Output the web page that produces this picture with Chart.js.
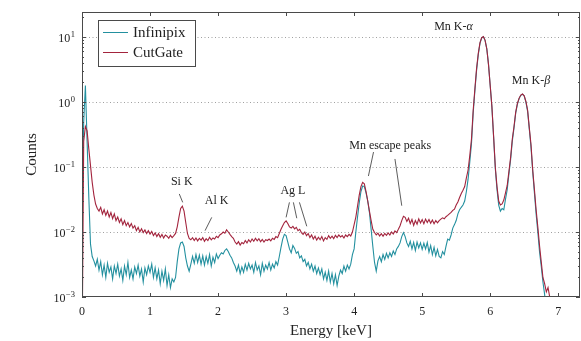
<!DOCTYPE html>
<html><head><meta charset="utf-8">
<script src="https://cdn.jsdelivr.net/npm/chart.js@4/dist/chart.umd.min.js"></script>
<style>html,body{margin:0;padding:0;background:#fff}canvas{display:block}</style>
</head><body>
<canvas id="c" width="581" height="341"></canvas>
<script>
// ---- data ----
const channelWidth = 0.025; // keV per spectrum channel (channel i is at i*channelWidth keV)
const seriesNames = ['Infinipix', 'CutGate'];

const infinipix = [
 0.02, 0.5, 1.8, 0.25, 0.035, 0.0065, 0.0042, 0.0036, 0.0030, 0.0038,
 0.0026, 0.0035, 0.0022, 0.0031, 0.0020, 0.0033, 0.0024, 0.0029, 0.0019, 0.0030,
 0.0023, 0.0032, 0.0021, 0.0027, 0.0018, 0.0030, 0.0022, 0.0034, 0.0020, 0.0026,
 0.0019, 0.0029, 0.0023, 0.0031, 0.0021, 0.0027, 0.0017, 0.0028, 0.0022, 0.0030,
 0.0024, 0.0032, 0.0020, 0.0028, 0.0019, 0.0026, 0.0016, 0.0025, 0.0018, 0.0027,
 0.0015, 0.0022, 0.0014, 0.0019, 0.0017, 0.0020, 0.0035, 0.0055, 0.0068, 0.0070,
 0.0060, 0.0040, 0.0030, 0.0025, 0.0032, 0.0042, 0.0033, 0.0045, 0.0034, 0.0044,
 0.0032, 0.0043, 0.0031, 0.0042, 0.0033, 0.0045, 0.0030, 0.0041, 0.0034, 0.0046,
 0.0039, 0.0044, 0.0048, 0.0046, 0.0052, 0.0055, 0.0050, 0.0044, 0.0040, 0.0034,
 0.0030, 0.0025, 0.0031, 0.0023, 0.0029, 0.0024, 0.0032, 0.0026, 0.0033, 0.0027,
 0.0031, 0.0024, 0.0034, 0.0026, 0.0030, 0.0022, 0.0033, 0.0025, 0.0031, 0.0027,
 0.0034, 0.0026, 0.0032, 0.0028, 0.0035, 0.0031, 0.0042, 0.0058, 0.0078, 0.0092,
 0.0088, 0.0070, 0.0055, 0.0048, 0.0062, 0.0056, 0.0047, 0.0050, 0.0040, 0.0043,
 0.0035, 0.0038, 0.0030, 0.0034, 0.0027, 0.0032, 0.0025, 0.0030, 0.0023, 0.0028,
 0.0022, 0.0027, 0.0019, 0.0024, 0.0018, 0.0025, 0.0017, 0.0023, 0.0016, 0.0022,
 0.0015, 0.0021, 0.0026, 0.0023, 0.0030, 0.0025, 0.0031, 0.0027, 0.0032, 0.0045,
 0.0055, 0.0100, 0.0170, 0.028, 0.042, 0.051, 0.050, 0.040, 0.030, 0.020,
 0.011, 0.0060, 0.0034, 0.0025, 0.0036, 0.0042, 0.0035, 0.0045, 0.0038, 0.0047,
 0.0040, 0.0048, 0.0042, 0.0051, 0.0045, 0.0055, 0.0060, 0.0068, 0.0085, 0.0098,
 0.0085, 0.0068, 0.0060, 0.0072, 0.0055, 0.0069, 0.0052, 0.0070, 0.0057, 0.0068,
 0.0054, 0.0067, 0.0055, 0.0069, 0.0049, 0.0062, 0.0045, 0.0058, 0.0043, 0.0054,
 0.0042, 0.0040, 0.0050, 0.0045, 0.0060, 0.0078, 0.0075, 0.0090, 0.0115, 0.0130,
 0.015, 0.019, 0.022, 0.024, 0.026, 0.030, 0.042, 0.065, 0.12, 0.23,
 0.68, 1.5, 3.1, 5.4, 8.0, 9.7, 10.1, 8.9, 6.6, 3.8,
 1.8, 0.84, 0.29, 0.095, 0.045, 0.026, 0.021, 0.023, 0.022, 0.032,
 0.045, 0.078, 0.13, 0.25, 0.40, 0.68, 0.93, 1.13, 1.27, 1.32,
 1.24, 1.0, 0.72, 0.38, 0.20, 0.085, 0.040, 0.019, 0.0100, 0.0050,
 0.0030, 0.0017, 0.0011, 0.0005
];

const cutgate = [
 0.0001, 0.25, 0.42, 0.36, 0.19, 0.105, 0.058, 0.037, 0.027, 0.023,
 0.021, 0.024, 0.019, 0.022, 0.018, 0.021, 0.017, 0.020, 0.016, 0.019,
 0.015, 0.017, 0.014, 0.016, 0.013, 0.015, 0.0125, 0.014, 0.012, 0.0135,
 0.0115, 0.0125, 0.0105, 0.0118, 0.0100, 0.0112, 0.0098, 0.0108, 0.0095, 0.0105,
 0.0093, 0.0102, 0.0088, 0.0097, 0.0085, 0.0094, 0.0083, 0.0092, 0.0081, 0.0090,
 0.0086, 0.0080, 0.0089, 0.0082, 0.0088, 0.0095, 0.012, 0.017, 0.023, 0.025,
 0.021, 0.014, 0.0095, 0.0080, 0.0076, 0.0082, 0.0074, 0.0081, 0.0073, 0.0080,
 0.0075, 0.0082, 0.0072, 0.0079, 0.0074, 0.0083, 0.0076, 0.0081, 0.0078, 0.0086,
 0.0082, 0.0090, 0.0094, 0.0100, 0.0096, 0.0108, 0.0100, 0.0092, 0.0085, 0.0080,
 0.0070, 0.0065, 0.0071, 0.0063, 0.0069, 0.0066, 0.0074, 0.0068, 0.0076, 0.0070,
 0.0078, 0.0072, 0.0080, 0.0073, 0.0079, 0.0071, 0.0077, 0.0070, 0.0076, 0.0074,
 0.0078, 0.0073, 0.0080, 0.0077, 0.0085, 0.0082, 0.0095, 0.0110, 0.0125, 0.0140,
 0.0148, 0.0135, 0.0120, 0.0115, 0.0122, 0.0112, 0.0118, 0.0105, 0.0110, 0.0098,
 0.0092, 0.0100, 0.0088, 0.0095, 0.0082, 0.0090, 0.0078, 0.0086, 0.0075, 0.0083,
 0.0076, 0.0085, 0.0073, 0.0082, 0.0077, 0.0088, 0.0080, 0.0086, 0.0079, 0.0089,
 0.0082, 0.0090, 0.0084, 0.0088, 0.0081, 0.0090, 0.0085, 0.0092, 0.0087, 0.0100,
 0.013, 0.017, 0.025, 0.037, 0.050, 0.058, 0.055, 0.042, 0.030, 0.021,
 0.015, 0.011, 0.0098, 0.0090, 0.0096, 0.0087, 0.0094, 0.0086, 0.0095, 0.0089,
 0.0097, 0.0090, 0.0100, 0.0093, 0.0104, 0.0098, 0.0110, 0.0125, 0.0150, 0.0175,
 0.0168, 0.0145, 0.0163, 0.0135, 0.0156, 0.0126, 0.0150, 0.0132, 0.0160, 0.0138,
 0.0155, 0.0134, 0.0158, 0.0140, 0.0156, 0.0136, 0.0153, 0.0134, 0.0150, 0.0138,
 0.0150, 0.0158, 0.0165, 0.0160, 0.0172, 0.0180, 0.0190, 0.0200, 0.0215, 0.0225,
 0.026, 0.029, 0.034, 0.039, 0.044, 0.050, 0.068, 0.090, 0.15, 0.27,
 0.75, 1.6, 3.3, 5.6, 8.2, 9.8, 10.2, 8.9, 6.6, 3.8,
 1.8, 0.85, 0.30, 0.10, 0.050, 0.030, 0.026, 0.027, 0.031, 0.040,
 0.052, 0.085, 0.14, 0.27, 0.42, 0.70, 0.95, 1.15, 1.28, 1.33,
 1.25, 1.02, 0.75, 0.40, 0.22, 0.09, 0.045, 0.022, 0.012, 0.0062,
 0.0035, 0.0020, 0.0016, 0.0012, 0.0014, 0.0010, 0.0008, 0.0004
];

const xTickValues = [0, 1, 2, 3, 4, 5, 6, 7];
const yTickValues = [1e-3, 1e-2, 1e-1, 1e0, 1e1];
const xAxisTitle = 'Energy [keV]';
const yAxisTitle = 'Counts';

// annotation labels (text anchored in data units) with pointer lines
const labels = [
  { parts: [['Mn K-', false], ['\u03b1', true]], x: 5.46, y: 14.3, pins: [] },
  { parts: [['Mn K-', false], ['\u03b2', true]], x: 6.60, y: 2.1, pins: [] },
  { parts: [['Mn escape peaks', false]], x: 4.53, y: 0.213,
    pins: [[4.285, 0.170, 4.21, 0.0727], [4.60, 0.133, 4.70, 0.0254]] },
  { parts: [['Si K', false]], x: 1.466, y: 0.060, pins: [[1.43, 0.0385, 1.48, 0.0286]] },
  { parts: [['Al K', false]], x: 1.98, y: 0.0303, pins: [[1.907, 0.0168, 1.809, 0.0105]] },
  { parts: [['Ag L', false]], x: 3.10, y: 0.0432,
    pins: [[3.049, 0.0286, 3.0, 0.0168], [3.107, 0.0286, 3.157, 0.0163], [3.196, 0.0286, 3.304, 0.01225]] }
];

// ---- style ----
const SERIF = "'Liberation Serif', 'Times New Roman', 'DejaVu Serif', serif";
const colors = { Infinipix: '#23909f', CutGate: '#a3243d' };
const frameColor = '#4a4a4a';

function toPoints(vals) {
  return vals.map((v, i) => ({ x: Math.round(i * channelWidth * 1000) / 1000, y: v }));
}

const decor = {
  id: 'decor',
  beforeDatasetsDraw(chart) {
    const { ctx, chartArea: a, scales: { y } } = chart;
    ctx.save();
    ctx.strokeStyle = '#a0a0a0';
    ctx.lineWidth = 1;
    ctx.setLineDash([1, 2.5]);
    yTickValues.forEach(v => {
      const py = Math.round(y.getPixelForValue(v)) + 0.5;
      if (py > a.bottom - 2) return;
      ctx.beginPath(); ctx.moveTo(a.left, py); ctx.lineTo(a.right, py); ctx.stroke();
    });
    ctx.restore();
  },
  afterDatasetsDraw(chart) {
    const { ctx, chartArea: a, scales: { x, y } } = chart;
    ctx.save();
    // frame
    ctx.strokeStyle = frameColor; ctx.lineWidth = 1;
    ctx.strokeRect(a.left + 0.5, a.top + 0.5, a.right - a.left - 1, a.bottom - a.top - 1);
    // x ticks (bottom & top, inward)
    ctx.beginPath();
    xTickValues.forEach(v => {
      const px = Math.round(x.getPixelForValue(v)) + 0.5;
      ctx.moveTo(px, a.bottom); ctx.lineTo(px, a.bottom - 4);
      ctx.moveTo(px, a.top); ctx.lineTo(px, a.top + 4);
    });
    // y ticks major & minor (left & right, inward)
    yTickValues.forEach(v => {
      const py = Math.round(y.getPixelForValue(v)) + 0.5;
      ctx.moveTo(a.left, py); ctx.lineTo(a.left + 4, py);
      ctx.moveTo(a.right, py); ctx.lineTo(a.right - 4, py);
    });
    for (let d = -3; d <= 1; d++) {
      for (let m = 2; m <= 9; m++) {
        const v = m * Math.pow(10, d);
        if (v > y.max) continue;
        const py = Math.round(y.getPixelForValue(v)) + 0.5;
        ctx.moveTo(a.left, py); ctx.lineTo(a.left + 2, py);
        ctx.moveTo(a.right, py); ctx.lineTo(a.right - 2, py);
      }
    }
    ctx.stroke();

    // y tick labels 10^n
    ctx.fillStyle = '#222';
    ctx.textAlign = 'left'; ctx.textBaseline = 'alphabetic';
    yTickValues.forEach(v => {
      const py = y.getPixelForValue(v);
      const e = Math.round(Math.log10(v));
      const es = e < 0 ? '\u2212' + (-e) : String(e);
      ctx.font = '12px ' + SERIF; const wb = ctx.measureText('10').width;
      ctx.font = '8.5px ' + SERIF; const we = ctx.measureText(es).width;
      const x0 = 75 - we - wb - 0.5;
      ctx.font = '12px ' + SERIF; ctx.fillText('10', x0, py + 4.5);
      ctx.font = '8.5px ' + SERIF; ctx.fillText(es, x0 + wb + 0.5, py - 0.5);
    });

    // axis titles
    ctx.font = '15px ' + SERIF;
    ctx.textAlign = 'center'; ctx.textBaseline = 'middle';
    ctx.fillText(xAxisTitle, (a.left + a.right) / 2, 331);
    ctx.save();
    ctx.translate(32, (a.top + a.bottom) / 2);
    ctx.rotate(-Math.PI / 2);
    ctx.fillText(yAxisTitle, 0, 0);
    ctx.restore();

    // annotations
    ctx.strokeStyle = '#333'; ctx.lineWidth = 0.8;
    labels.forEach(l => {
      let w = 0;
      l.parts.forEach(([t, it]) => { ctx.font = (it ? 'italic ' : '') + '12px ' + SERIF; w += ctx.measureText(t).width; });
      let px = x.getPixelForValue(l.x) - w / 2;
      const py = y.getPixelForValue(l.y);
      ctx.textAlign = 'left'; ctx.textBaseline = 'middle';
      l.parts.forEach(([t, it]) => {
        ctx.font = (it ? 'italic ' : '') + '12px ' + SERIF;
        ctx.fillText(t, px, py);
        px += ctx.measureText(t).width;
      });
      l.pins.forEach(([x1, y1, x2, y2]) => {
        ctx.beginPath();
        ctx.moveTo(x.getPixelForValue(x1), y.getPixelForValue(y1));
        ctx.lineTo(x.getPixelForValue(x2), y.getPixelForValue(y2));
        ctx.stroke();
      });
    });

    // legend
    const lx = 98, ly = 20, lw = 97, lh = 46;
    ctx.fillStyle = '#fff';
    ctx.fillRect(lx, ly, lw, lh);
    ctx.strokeStyle = frameColor; ctx.lineWidth = 1;
    ctx.strokeRect(lx + 0.5, ly + 0.5, lw, lh);
    chart.data.datasets.forEach((ds, i) => {
      const rowY = ly + 12.5 + i * 20;
      ctx.strokeStyle = ds.borderColor; ctx.lineWidth = 1;
      ctx.beginPath(); ctx.moveTo(lx + 5, rowY); ctx.lineTo(lx + 30, rowY); ctx.stroke();
      ctx.fillStyle = '#222';
      ctx.font = '15px ' + SERIF;
      ctx.textAlign = 'left'; ctx.textBaseline = 'middle';
      ctx.fillText(ds.label, lx + 35, rowY + 0.5);
    });
    ctx.restore();
  }
};

new Chart(document.getElementById('c'), {
  type: 'line',
  data: {
    datasets: [
      { label: seriesNames[0], data: toPoints(infinipix), borderColor: colors.Infinipix,
        borderWidth: 1.1, pointRadius: 0, tension: 0, fill: false, order: 1 },
      { label: seriesNames[1], data: toPoints(cutgate), borderColor: colors.CutGate,
        borderWidth: 1.1, pointRadius: 0, tension: 0, fill: false, order: 0 }
    ]
  },
  options: {
    responsive: false,
    animation: false,
    events: [],
    layout: { padding: { left: 0, right: 1, top: 12, bottom: 0 } },
    plugins: { legend: { display: false }, tooltip: { enabled: false } },
    scales: {
      x: {
        type: 'linear', min: 0, max: 7.32,
        afterBuildTicks: s => { s.ticks = xTickValues.map(v => ({ value: v })); },
        afterFit: s => { s.height = 44; },
        grid: { display: false, drawTicks: false },
        border: { display: false },
        ticks: { color: '#222', padding: 8, font: { family: SERIF, size: 12 }, callback: v => String(v), maxRotation: 0 }
      },
      y: {
        type: 'logarithmic', min: 1e-3, max: 24.3,
        afterBuildTicks: s => { s.ticks = yTickValues.map(v => ({ value: v })); },
        afterFit: s => { s.width = 82; },
        grid: { display: false, drawTicks: false },
        border: { display: false },
        ticks: { display: false }
      }
    }
  },
  plugins: [decor]
});
</script>
</body></html>
